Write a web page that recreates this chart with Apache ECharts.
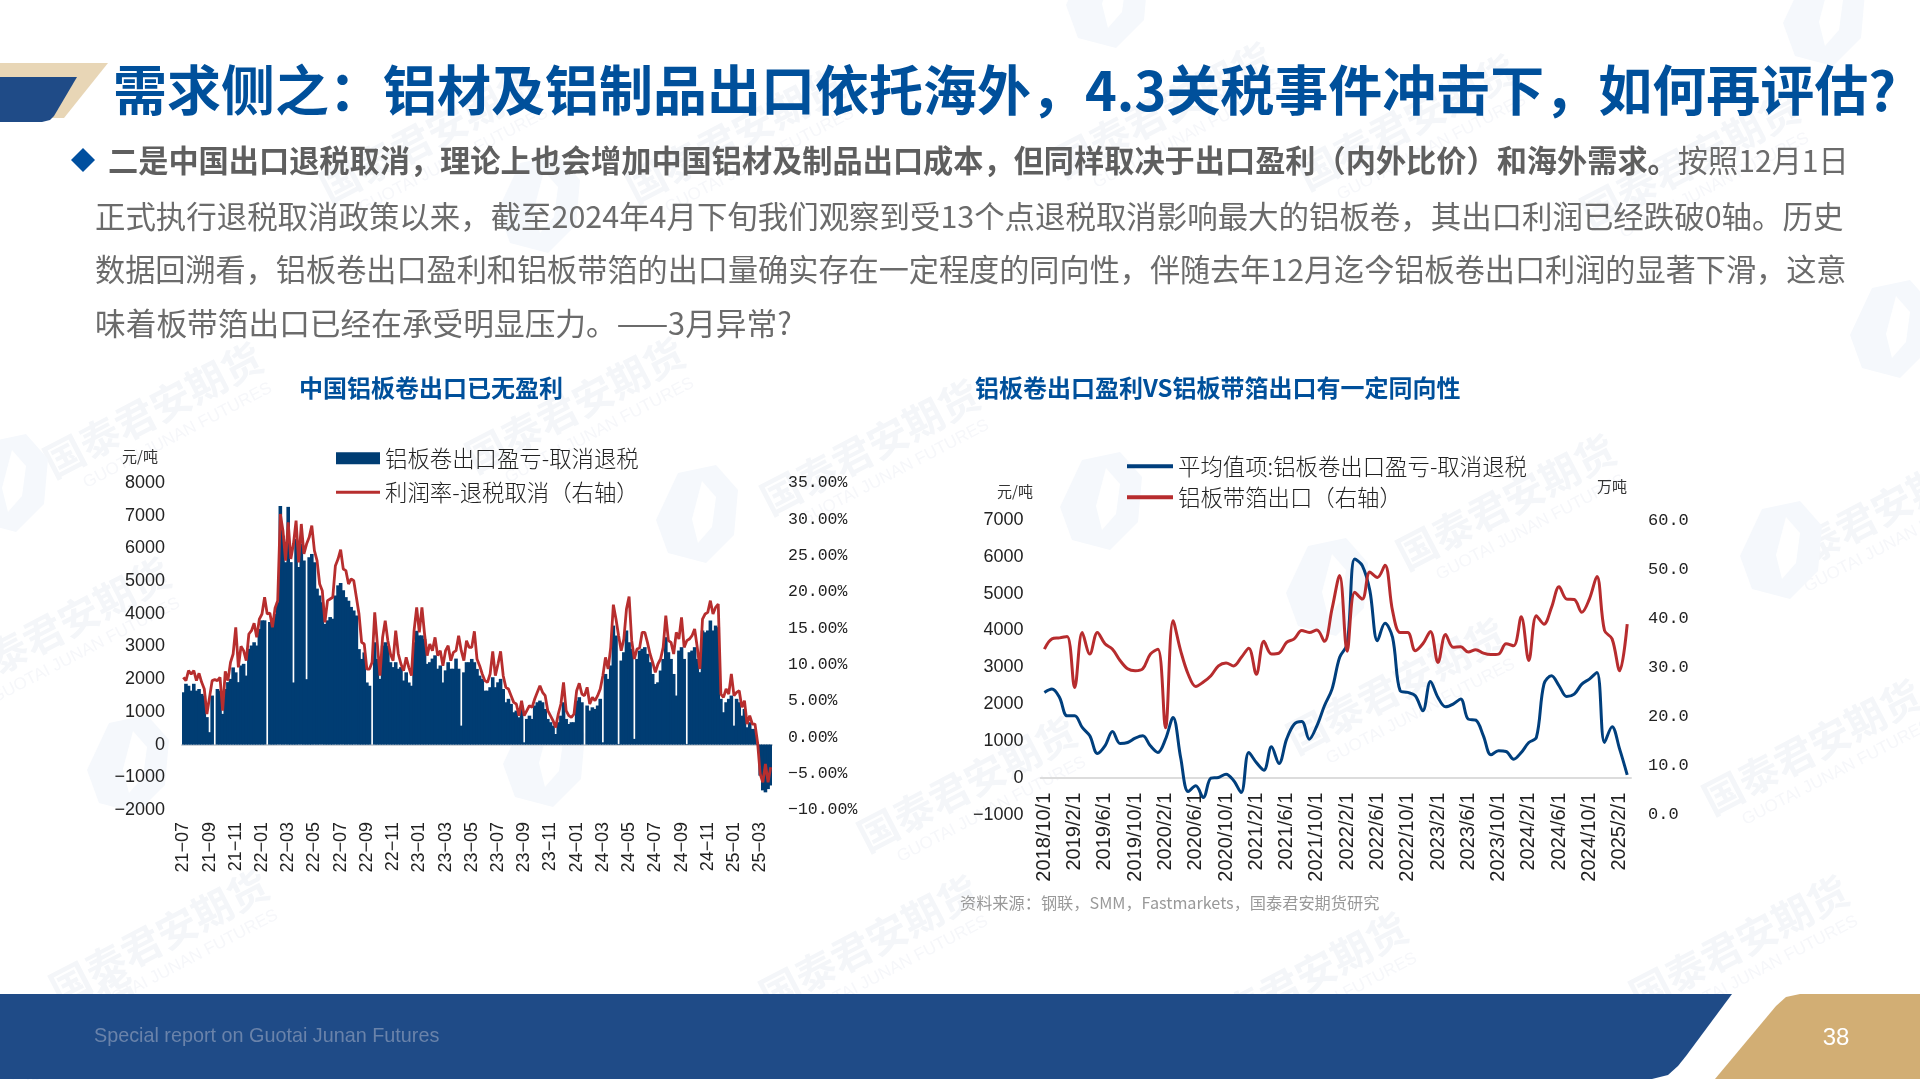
<!DOCTYPE html>
<html><head><meta charset="utf-8">
<style>html,body{margin:0;padding:0;background:#fff}#c{width:1920px;height:1080px}</style>
<script src="https://cdn.jsdelivr.net/npm/echarts@6/dist/echarts.min.js"></script>
</head><body><div id="c"></div>
<script>
// ---------- left chart data ----------
const leftTickLabels = ['21-07','21-09','21-11','22-01','22-03','22-05','22-07','22-09','22-11','23-01','23-03','23-05','23-07','23-09','23-11','24-01','24-03','24-05','24-07','24-09','24-11','25-01','25-03'];
const plateProfit = [
1600,1860,1800,1650,1860,1650,1700,1550,1500,840,
380,1500,0,1700,1650,940,1700,1910,2010,2360,
2210,1910,2420,2470,2110,2930,3030,3130,3030,3540,
3800,3800,0,3750,3750,4000,4355,7300,6390,5580,
7270,5580,1900,6290,5430,6150,5630,2000,5730,5830,
5580,4770,4560,4355,3690,3800,3900,3850,4560,4870,
4945,4720,4510,4400,4210,4100,3950,2920,2620,2820,
1900,1800,0,3130,2620,2010,3030,3130,3030,2520,
2370,2520,2320,2370,1960,2210,1900,1800,3130,3480,
3340,3340,3230,2470,2520,2630,2730,2320,2420,1900,
2270,2520,2320,2320,2630,2320,580,2210,2520,2520,
2620,2520,2315,2110,2010,1650,1650,1755,2060,1755,
1905,2010,1700,1295,1400,1245,990,1040,835,1195,
70,785,885,785,1195,1295,1345,1295,1090,785,
685,580,325,685,885,1295,785,630,685,685,
1345,1450,1295,0,1195,1040,1140,1090,1195,1400,
70,2160,2010,2420,3640,3335,20,2570,2825,3490,
3130,2930,175,2620,2875,2930,2980,2775,2520,2160,
1855,1905,2265,2620,3285,2825,2620,2160,1500,2875,
2980,2620,20,2825,2875,2980,2620,2215,3490,3435,
3490,3795,3490,3640,3590,1400,990,1295,1400,1500,
580,1400,1295,885,1090,530,685,480,480,20,
-950,-1400,-1460,-1360,-1250];
const profitRate = [
8.26,7.80,9.17,8.71,9.17,7.80,8.81,7.57,6.65,3.21,
5.50,7.80,7.94,7.80,8.26,3.67,9.08,7.80,10.32,11.47,
15.14,9.63,12.52,11.93,10.55,14.22,14.68,15.69,13.76,16.28,
16.97,19.27,16.97,17.11,15.14,17.80,18.81,30.73,28.44,24.31,
29.59,24.54,26.60,29.82,24.08,29.36,25.23,26.60,27.52,29.13,
25.69,24.31,21.10,20.18,15.83,18.81,19.04,19.27,23.62,24.54,
25.82,23.16,22.94,21.10,21.79,21.56,19.27,16.97,13.07,12.84,
9.40,9.40,10.32,17.20,12.84,8.49,13.76,16.05,13.30,11.47,
10.55,14.68,11.47,10.09,9.17,11.01,9.63,8.49,14.68,17.89,
14.45,17.89,14.22,11.24,12.84,11.93,13.76,11.24,11.93,9.86,
11.93,12.61,10.55,11.70,11.93,13.99,11.93,10.55,13.30,12.38,
12.38,14.59,10.78,9.86,8.71,7.80,7.57,8.71,11.83,8.48,
10.09,11.83,8.48,6.88,6.65,5.73,4.81,4.59,2.98,5.04,
2.98,3.67,4.36,4.13,5.27,6.19,7.11,6.19,5.73,3.67,
2.98,2.29,1.37,3.21,4.59,7.57,3.67,2.98,2.75,3.21,
6.42,7.43,5.96,5.73,6.88,4.59,5.50,5.04,5.73,6.65,
8.48,11.01,9.40,12.38,18.26,16.28,13.99,11.93,13.53,17.66,
19.36,13.30,10.78,12.15,12.29,14.45,14.45,13.07,11.47,10.32,
8.94,10.09,10.78,12.38,16.74,13.30,13.07,11.47,14.45,13.53,
16.51,12.38,13.30,13.53,13.99,14.91,12.38,9.40,16.28,16.97,
17.20,18.81,16.97,17.89,18.35,5.96,5.50,6.65,5.96,8.71,
5.73,6.19,6.42,4.13,5.04,1.83,2.98,1.83,1.83,-0.69,
-5.05,-6.19,-3.67,-6.19,-4.13];

// ---------- right chart data ----------
const monthlyProfit = [
2319,2409,2183,1685,1685,1368,1141,661,870,1259,
933,960,1078,1141,870,689,1051,1640,553,-371,
-217,-534,-9,9,100,-72,-399,689,417,208,
842,390,1051,1458,1531,1051,1413,1957,2409,3270,
3632,5942,5761,5082,3723,4194,3813,2364,2319,2228,
1821,2618,2183,1929,2002,2138,1594,1567,1141,625,
734,716,507,689,960,1096,2545,2772,2500,2210,
2274,2545,2681,2862,960,1386,779,82];
const stripExports = [
33.7,35.8,36.0,36.3,25.9,37.1,32.7,37.1,34.8,33.7,
31.4,29.7,29.3,29.7,32.7,33.7,17.7,39.5,33.4,28.6,
26.1,27.0,28.3,30.3,30.9,30.3,32.0,33.9,28.6,35.3,
32.7,32.9,35.1,35.8,37.5,37.1,37.6,35.3,41.9,48.7,
33.3,45.3,43.9,49.4,48.3,50.8,41.5,37.1,37.1,33.4,
34.8,37.3,31.0,36.7,34.1,34.2,33.1,33.6,32.9,32.6,
32.7,34.8,34.4,40.3,31.4,40.5,38.8,42.2,46.4,43.9,
43.8,41.2,43.9,48.5,37.5,35.8,29.3,38.8];

// ---------- text ----------
const titleText = '需求侧之\uFF1A铝材及铝制品出口依托海外\uFF0C4.3关税事件冲击下\uFF0C如何再评估?';
const bodyBold = '二是中国出口退税取消\uFF0C理论上也会增加中国铝材及制品出口成本\uFF0C但同样取决于出口盈利\uFF08内外比价\uFF09和海外需求。';
const bodyLine1 = '按照12月1日';
const bodyLine2 = '正式执行退税取消政策以来\uFF0C截至2024年4月下旬我们观察到受13个点退税取消影响最大的铝板卷\uFF0C其出口利润已经跌破0轴。历史';
const bodyLine3 = '数据回溯看\uFF0C铝板卷出口盈利和铝板带箔的出口量确实存在一定程度的同向性\uFF0C伴随去年12月迄今铝板卷出口利润的显著下滑\uFF0C这意';
const bodyLine4 = '味着板带箔出口已经在承受明显压力。——3月异常?';
const sourceText = '资料来源\uFF1A钢联\uFF0CSMM\uFF0CFastmarkets\uFF0C国泰君安期货研究';
const legendLeft = ['铝板卷出口盈亏-取消退税','利润率-退税取消\uFF08右轴\uFF09'];
const legendRight = ['平均值项:铝板卷出口盈亏-取消退税','铝板带箔出口\uFF08右轴\uFF09'];

const cjk = '"Noto Sans CJK SC"';
const num = '"Liberation Sans"';
const minus = s => String(s).replace('-', '\u2212');

const leftCats = plateProfit.map((_, i) => leftTickLabels[Math.floor(i / 10)] );
const rightCats = monthlyProfit.map((_, i) => {
  const m = 9 + i; return (2018 + Math.floor(m / 12)) + '/' + (m % 12 + 1) + '/1';
});

const watermarks = [[153,410],[575,405],[870,447],[1506,502],[967,784],[1396,686],[1812,747],[61,625],[159,937],[869,943],[1298,980],[1739,943],[429,135],[735,135],[1163,110],[1407,122],[1690,160],[1874,514],[30,1040]];
const logos = [[698,515],[1102,502],[1328,588],[1782,551],[1892,330],[129,765],[545,759],[8,484],[1108,0],[1825,18],[540,205]];

const graphic = [];
watermarks.forEach(([x,y]) => {
  graphic.push({type:'group',x,y,rotation:0.48,z:0,children:[
    {type:'text',z:0,style:{text:'国泰君安期货',x:0,y:0,align:'center',verticalAlign:'middle',fill:'#f4f6f9',font:'bold 40px '+cjk}},
    {type:'text',z:0,style:{text:'GUOTAI JUNAN FUTURES',x:10,y:34,align:'center',verticalAlign:'middle',fill:'#f6f7fa',font:'17px '+num}}
  ]});
});
logos.forEach(([x,y]) => {
  graphic.push({type:'polygon',z:0,x,y,shape:{points:[[-20,-42],[18,-50],[40,-25],[36,20],[8,48],[-30,38],[-42,5]]},style:{fill:'#f5f8fc'}});
  graphic.push({type:'polygon',z:0,x,y,shape:{points:[[4,-34],[18,-18],[14,12],[0,28],[-6,4]]},style:{fill:'#ffffff'}});
});
// header marks
graphic.push({type:'polygon',z:1,shape:{points:[[0,63],[108,63],[64,118],[0,118]]},style:{fill:'#e8d6b6'}});
graphic.push({type:'polygon',z:1,shape:{points:[[0,77],[77,77],[54,116],[50,120],[42,122],[0,122]]},style:{fill:'#1f4b87'}});
graphic.push({type:'text',z:3,style:{text:titleText,x:113,y:90,verticalAlign:'middle',fill:'#00509b',font:'bold 54px '+cjk}});
// body
graphic.push({type:'polygon',z:3,shape:{points:[[83,148],[95,160],[83,172],[71,160]]},style:{fill:'#004f9f'}});
graphic.push({type:'text',z:3,style:{text:'{b|'+bodyBold+'}{n|'+bodyLine1+'}',x:108,y:161,verticalAlign:'middle',
  rich:{b:{fontFamily:cjk,fontWeight:'bold',fontSize:30.2,fill:'#5f5f5f'},n:{fontFamily:cjk,fontSize:30.2,fill:'#6b6b6b'}}}});
[[bodyLine2,216,30.45],[bodyLine3,270,30.15],[bodyLine4,323,30.7]].forEach(([t,y,fs]) => {
  graphic.push({type:'text',z:3,style:{text:t,x:95,y,verticalAlign:'middle',fill:'#6b6b6b',font:fs+'px '+cjk}});
});
// chart titles, units, source
graphic.push({type:'text',z:3,style:{text:'中国铝板卷出口已无盈利',x:299,y:388,verticalAlign:'middle',fill:'#00509b',font:'bold 24px '+cjk}});
graphic.push({type:'text',z:3,style:{text:'铝板卷出口盈利VS铝板带箔出口有一定同向性',x:975,y:388,verticalAlign:'middle',fill:'#00509b',font:'bold 24px '+cjk}});
[['元/吨',122,456],['元/吨',997,491],['万吨',1597,486]].forEach(([t,x,y]) => {
  graphic.push({type:'text',z:3,style:{text:t,x,y,verticalAlign:'middle',fill:'#333',font:'15px '+cjk}});
});
graphic.push({type:'text',z:3,style:{text:sourceText,x:960,y:903,verticalAlign:'middle',fill:'#999999',font:'16.2px '+cjk}});
// footer
graphic.push({type:'polygon',z:1,shape:{points:[[0,994],[1732,994],[1686,1056],[1678,1066],[1668,1075],[1652,1079],[0,1079]]},style:{fill:'#1f4b87'}});
graphic.push({type:'polygon',z:1,shape:{points:[[1800,994],[1920,994],[1920,1079],[1715,1079],[1776,1006],[1786,997]]},style:{fill:'#d2ae74'}});
graphic.push({type:'text',z:3,style:{text:'Special report on Guotai Junan Futures',x:94,y:1037,verticalAlign:'middle',fill:'#6a83aa',font:'19.8px '+num}});
graphic.push({type:'text',z:3,style:{text:'38',x:1836,y:1038,align:'center',verticalAlign:'middle',fill:'#ffffff',font:'24px '+num}});

const xBase = {
  type:'category', position:'bottom',
  axisLine:{onZero:true,lineStyle:{color:'#cdd2d8',width:2}},
  axisTick:{inside:true,length:5,lineStyle:{color:'#cdd2d8',width:1.5}},
  splitLine:{show:false}
};
const yBase = {
  type:'value', splitLine:{show:false}, axisTick:{show:false}, axisLine:{show:false}
};
const legendBase = {orient:'horizontal',padding:0,itemGap:0,
  textStyle:{fontFamily:cjk,fontSize:22.4,color:'#222',fontWeight:300}};
const opt = {
  animation:false,
  backgroundColor:'#ffffff',
  graphic,
  grid:[
    {left:182,width:590,top:483,height:327,containLabel:false},
    {left:1040.6,width:590.4,top:520,height:294.7,containLabel:false}
  ],
  legend:[
    Object.assign({},legendBase,{left:336,top:447,itemWidth:44,itemHeight:12,icon:'rect',data:[legendLeft[0]]}),
    Object.assign({},legendBase,{left:336,top:481,itemWidth:44,itemHeight:3,icon:'rect',data:[legendLeft[1]]}),
    Object.assign({},legendBase,{left:1127,top:455,itemWidth:46,itemHeight:4,icon:'rect',data:[legendRight[0]]}),
    Object.assign({},legendBase,{left:1127,top:486,itemWidth:46,itemHeight:4,icon:'rect',data:[legendRight[1]]})
  ],
  xAxis:[
    Object.assign({},xBase,{gridIndex:0,data:leftCats,
      axisTick:Object.assign({},xBase.axisTick,{interval:9}),
      axisLabel:{interval:9,rotate:90,margin:12,fontFamily:num,fontSize:18,color:'#222',formatter:minus}}),
    Object.assign({},xBase,{gridIndex:1,data:rightCats,
      axisLine:{onZero:true,lineStyle:{color:'#dcdcdc',width:2}},
      axisTick:{inside:true,interval:3,length:6,lineStyle:{color:'#dcdcdc',width:1.5}},
      axisLabel:{interval:3,rotate:90,margin:-22,fontFamily:num,fontSize:20,color:'#222'}})
  ],
  yAxis:[
    Object.assign({},yBase,{gridIndex:0,min:-2000,max:8000,interval:1000,
      axisLabel:{margin:17,fontFamily:num,fontSize:18,color:'#222',formatter:minus}}),
    Object.assign({},yBase,{gridIndex:0,position:'right',min:-10,max:35,interval:5,
      axisLabel:{margin:16,fontFamily:'"Liberation Mono"',fontSize:16.5,color:'#222',formatter:v=>minus(v.toFixed(2))+'%'}}),
    Object.assign({},yBase,{gridIndex:1,min:-1000,max:7000,interval:1000,
      axisLabel:{margin:17,fontFamily:num,fontSize:18,color:'#222',formatter:minus}}),
    Object.assign({},yBase,{gridIndex:1,position:'right',min:0,max:60,interval:10,
      axisLabel:{margin:17,fontFamily:'"Liberation Mono"',fontSize:17,color:'#222',formatter:v=>v.toFixed(1)}})
  ],
  series:[
    {name:legendLeft[0],type:'bar',xAxisIndex:0,yAxisIndex:0,data:plateProfit,barWidth:3.6,
     itemStyle:{color:'#003d73'},z:2},
    {name:legendLeft[1],type:'line',xAxisIndex:0,yAxisIndex:1,data:profitRate,showSymbol:false,symbol:'none',
     lineStyle:{color:'#b72e2e',width:2.8},itemStyle:{color:'#b72e2e'},z:3},
    {name:legendRight[0],type:'line',xAxisIndex:1,yAxisIndex:2,data:monthlyProfit,symbol:'none',smooth:0.35,
     lineStyle:{color:'#003f7d',width:3},itemStyle:{color:'#003f7d'},z:3},
    {name:legendRight[1],type:'line',xAxisIndex:1,yAxisIndex:3,data:stripExports,symbol:'none',smooth:0.35,
     lineStyle:{color:'#b72c2e',width:3},itemStyle:{color:'#b72c2e'},z:3}
  ]
};
const chart = echarts.init(document.getElementById('c'),null,{renderer:'canvas',width:1920,height:1080});
chart.setOption(opt);
</script></body></html>
